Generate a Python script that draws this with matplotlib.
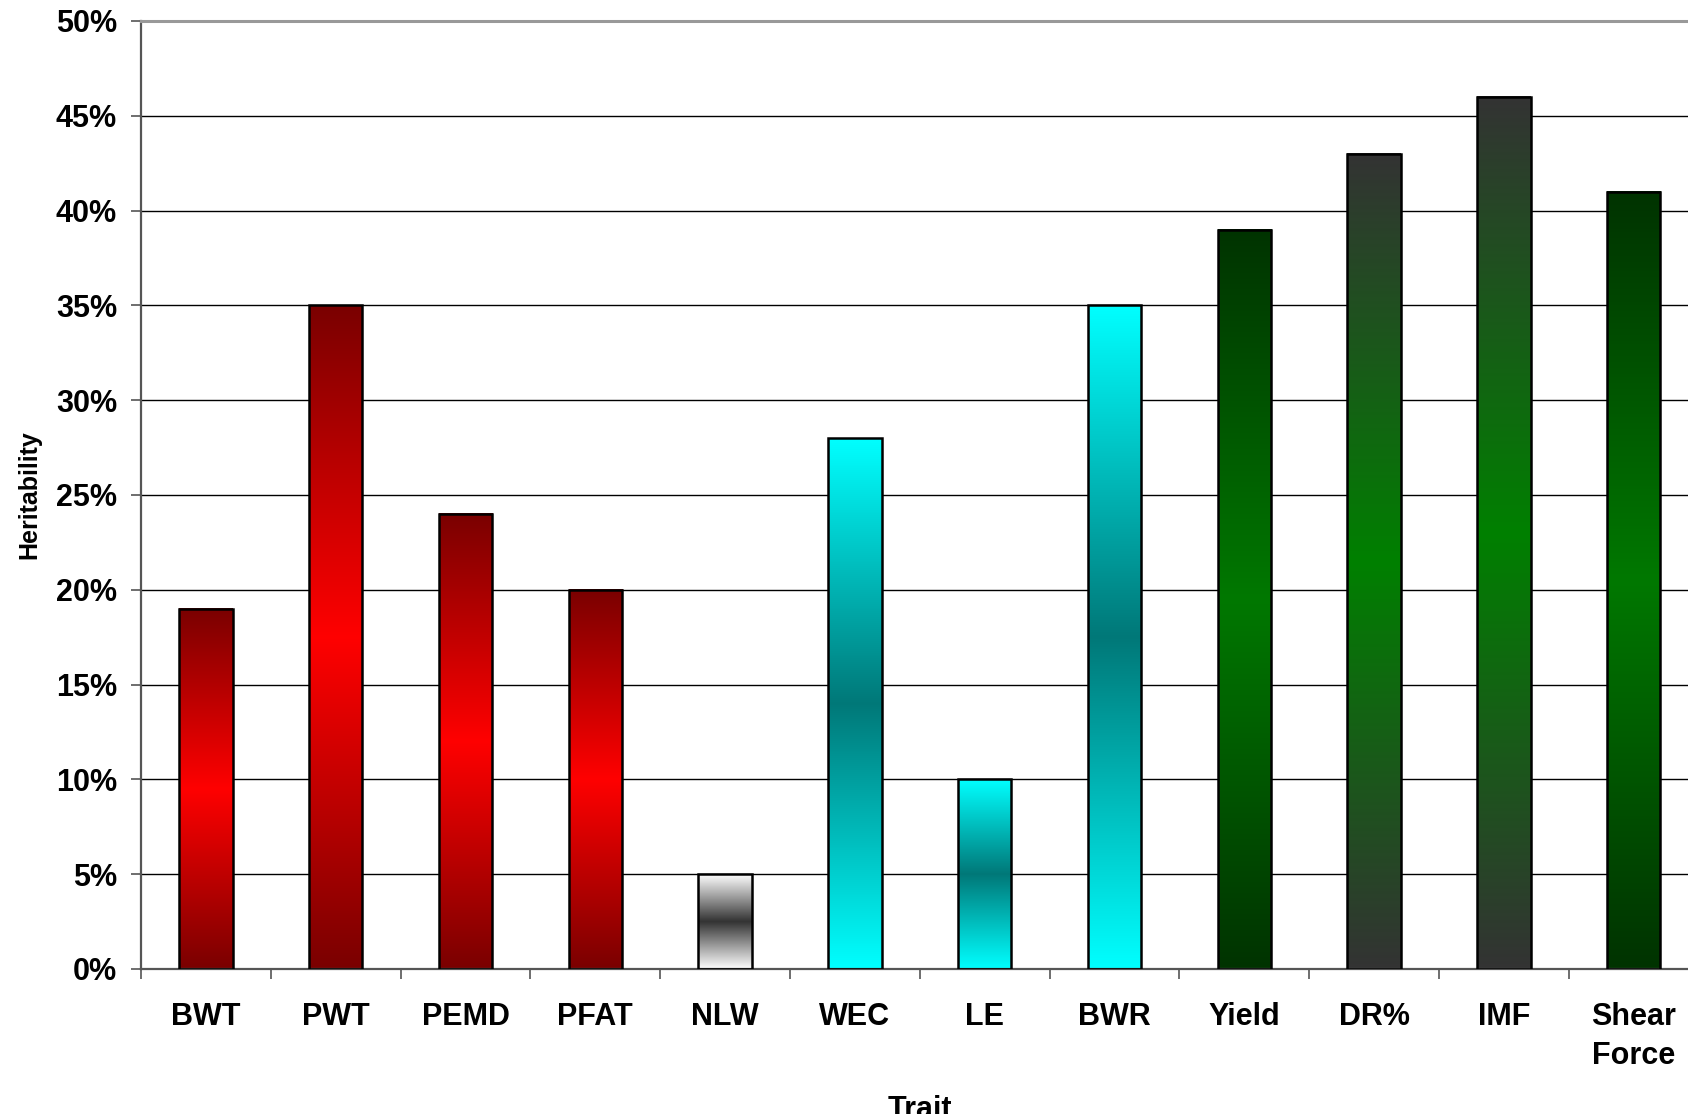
import numpy as np
import matplotlib
matplotlib.use("Agg")
import matplotlib.pyplot as plt
from matplotlib.colors import LinearSegmentedColormap
from matplotlib.ticker import FixedLocator, FuncFormatter

plt.rcParams['font.family'] = ['Liberation Sans', 'DejaVu Sans']
plt.rcParams['font.weight'] = 'bold'

traits = ['BWT', 'PWT', 'PEMD', 'PFAT', 'NLW', 'WEC', 'LE', 'BWR',
          'Yield', 'DR%', 'IMF', 'Shear\nForce']
heritability = [19, 35, 24, 20, 5, 28, 10, 35, 39, 43, 46, 41]  # percent

# (end colour, centre colour) of each bar's vertical gradient
red = ('#7a0000', '#ff0000')
grey = ('#ffffff', '#333333')
teal = ('#00ffff', '#007878')
dkgreen = ('#003300', '#007800')
gygreen = ('#333333', '#008000')
bar_grad = [red, red, red, red, grey, teal, teal, teal,
            dkgreen, gygreen, gygreen, dkgreen]

W, H = 1688, 1114
fig = plt.figure(figsize=(W / 100, H / 100), dpi=100)
ax = fig.add_axes([141 / W, 145 / H, 1557.6 / W, 948 / H])

bw = 0.41
for i, (v, (c_end, c_mid)) in enumerate(zip(heritability, bar_grad)):
    cmap = LinearSegmentedColormap.from_list('g%d' % i, [c_end, c_mid, c_end])
    grad = np.linspace(0, 1, 256).reshape(-1, 1)
    ax.imshow(grad, cmap=cmap, aspect='auto', origin='lower',
              extent=(i + 0.5 - bw / 2, i + 0.5 + bw / 2, 0, v), zorder=2,
              interpolation='bilinear')
    ax.bar(i + 0.5, v, width=bw, facecolor='none', edgecolor='black',
           linewidth=1.8, zorder=3)

ax.set_xlim(0, len(traits))
ax.set_ylim(0, 50)

# gridlines
for y in range(5, 50, 5):
    ax.axhline(y, color='black', linewidth=1.0, zorder=1)

ax.yaxis.set_major_locator(FixedLocator(range(0, 51, 5)))
ax.yaxis.set_major_formatter(FuncFormatter(lambda x, p: '%d%%' % x))
ax.tick_params(axis='y', direction='out', length=7.2, width=1.2, color='#555555',
               labelsize=22, pad=10)

ax.xaxis.set_major_locator(FixedLocator(range(0, len(traits) + 1)))
ax.xaxis.set_major_formatter(FuncFormatter(lambda x, p: ''))
ax.xaxis.set_minor_locator(FixedLocator(np.arange(len(traits)) + 0.5))
ax.set_xticklabels(traits, minor=True, fontsize=22, fontweight='bold',
                   linespacing=1.38)
ax.tick_params(axis='x', which='major', direction='out', length=7.2, width=1.2,
               color='#555555')
ax.tick_params(axis='x', which='minor', length=0, pad=24)

for s in ['left', 'bottom']:
    ax.spines[s].set_color('#555555')
    ax.spines[s].set_linewidth(1.6)
ax.spines['top'].set_color('#999999')
ax.spines['top'].set_linewidth(2.2)
ax.spines['right'].set_visible(False)

ax.set_ylabel('Heritability', fontsize=18, fontweight='bold', va='center')
ax.yaxis.set_label_coords(-0.0719, 0.5)
ax.set_xlabel('Trait', fontsize=22, fontweight='bold', va='top')
ax.xaxis.set_label_coords(0.5, -0.1329)

plt.savefig('out.png', dpi=100)
plt.close()
